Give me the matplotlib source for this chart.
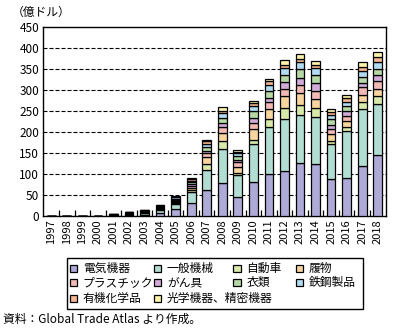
import matplotlib.pyplot as plt
from matplotlib.patches import Rectangle
import numpy as np

plt.rcParams['font.family'] = ['Noto Sans CJK JP', 'DejaVu Sans']

years = [str(y) for y in range(1997, 2019)]

# 億ドル, stacked bottom to top
electric = [0.5, 0.5, 0.5, 0.5, 1.5, 2.5, 4, 9, 17, 33, 63, 79, 47, 82, 100, 108, 126, 124, 88, 90, 120, 145]
machinery = [0.3, 0.3, 0.3, 0.3, 1, 2, 3, 6, 13, 25, 46, 81, 52, 89, 113, 123, 114, 112, 83, 112, 135, 122]
auto = [0.1, 0.1, 0.1, 0.1, 0.3, 0.5, 1, 1.5, 2, 4, 16, 18, 4, 10, 18, 26, 24, 21, 9, 11, 17, 18]
footwear = [0.3, 0.3, 0.3, 0.3, 0.8, 1.5, 1.5, 2, 3, 6, 15, 21, 14, 26, 24, 28, 29, 22, 15, 13, 17, 17]
plastic = [0.2, 0.2, 0.2, 0.2, 0.5, 1, 1, 1.5, 2, 5, 10, 14, 12, 14, 16, 17, 19, 19, 13, 13, 17, 20]
toys = [0.1, 0.1, 0.1, 0.1, 0.3, 0.5, 1, 1.5, 2, 3, 5, 8, 4, 12, 10, 17, 16, 19, 9, 11, 11, 14]
clothing = [0.3, 0.3, 0.3, 0.3, 0.8, 1.5, 2, 2, 3, 5, 9, 13, 11, 17, 17, 17, 21, 19, 14, 12, 14, 14]
steel = [0.1, 0.1, 0.1, 0.1, 0.3, 0.5, 1, 1.5, 3, 4, 8, 11, 6, 12, 14, 16, 17, 16, 9, 9, 14, 16]
organic = [0.1, 0.1, 0.1, 0.1, 0.3, 0.5, 1, 1, 2, 4, 6, 6, 3, 6, 8, 8, 7, 7, 7, 10, 10, 13]
optical = [0.0, 0.0, 0.0, 0.0, 0.2, 0.5, 0.5, 1, 1, 3, 4, 8, 4, 6, 6, 10, 12, 10, 7, 7, 10, 11]

series = [
    ('電気機器', electric, '#aeaad8'),
    ('一般機械', machinery, '#b2ddd3'),
    ('自動車', auto, '#d9e9a9'),
    ('履物', footwear, '#f8d59e'),
    ('プラスチック', plastic, '#f2bab5'),
    ('がん具', toys, '#d1abd8'),
    ('衣類', clothing, '#b6d8a6'),
    ('鉄鋼製品', steel, '#b2dcf4'),
    ('有機化学品', organic, '#f5b690'),
    ('光学機器、精密機器', optical, '#fdf2aa'),
]

fig = plt.figure(figsize=(3.95, 3.33), dpi=100)
ax = fig.add_axes([0.110, 0.350, 0.866, 0.570])

x = np.arange(len(years))
bottom = np.zeros(len(years))
for name, vals, color in series:
    vals = np.array(vals)
    ax.bar(x, vals, width=0.56, bottom=bottom, color=color,
           edgecolor='black', linewidth=0.9, zorder=3)
    bottom += vals

ax.set_xlim(-0.5, len(years) - 0.5)
ax.set_ylim(0, 450)
ax.set_yticks(np.arange(0, 451, 50))
ax.set_xticks(x)
ax.set_xticklabels(years, rotation=90, fontsize=8)
ax.set_xticks(np.arange(0.5, len(years) - 1, 1), minor=True)
ax.tick_params(axis='x', which='major', length=0, pad=2)
ax.tick_params(axis='x', which='minor', direction='in', length=4, width=0.9)
ax.tick_params(axis='y', length=0, pad=3, labelsize=8.5)

for y in range(50, 450, 50):
    ax.axhline(y, color='black', linewidth=0.8, linestyle=(0, (3.6, 1.8)), zorder=1)

for s in ax.spines.values():
    s.set_linewidth(1.0)

fig.text(0.030, 0.962, '（億ドル）', fontsize=8.5, va='center', ha='left')

# legend box drawn by hand so rows line up like a table
W, H = 395, 333
fig.patches.append(Rectangle((66.7 / W, 1 - 309.3 / H), (362.7 - 66.7) / W, (309.3 - 257.7) / H,
                             transform=fig.transFigure, facecolor='white',
                             edgecolor='black', linewidth=1.0))
col_x = [70, 154, 233.3, 296]
row_y = [268.3, 282.7, 298.3]
layout = [(0, 0), (0, 1), (0, 2), (0, 3),
          (1, 0), (1, 1), (1, 2), (1, 3),
          (2, 0), (2, 1)]
box = 7.3
for (r, c), (name, vals, color) in zip(layout, series):
    px, py = col_x[c], row_y[r]
    fig.patches.append(Rectangle((px / W, 1 - (py + box / 2) / H), box / W, box / H,
                                 transform=fig.transFigure, facecolor=color,
                                 edgecolor='black', linewidth=0.9))
    fig.text((px + box + 5.5) / W, 1 - py / H, name, fontsize=8.5, va='center', ha='left')

fig.text(3 / W, 1 - 319.5 / H, '資料：Global Trade Atlas より作成。', fontsize=8.5,
         va='center', ha='left')

fig.savefig('out.png', dpi=100)
